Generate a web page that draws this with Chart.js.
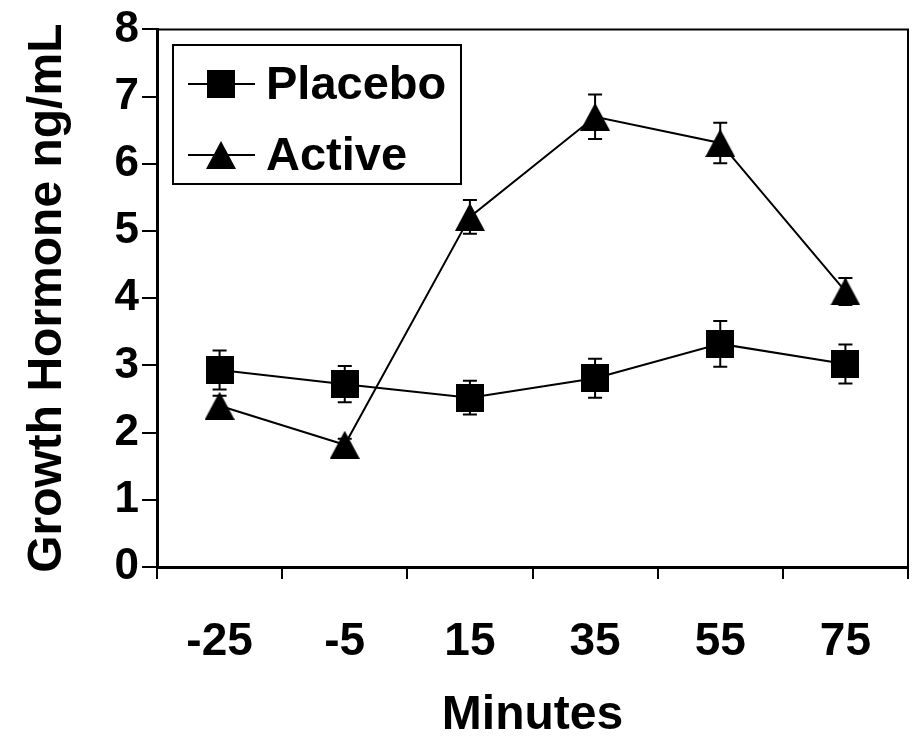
<!DOCTYPE html>
<html>
<head>
<meta charset="utf-8">
<script src="https://cdn.jsdelivr.net/npm/chart.js@4/dist/chart.umd.min.js"></script>
<style>
  body { margin: 0; background: #fff; }
</style>
</head>
<body>
<canvas id="ghChart" width="914" height="745"></canvas>
<script>
// values
const minutes = ['-25', '-5', '15', '35', '55', '75'];
const placebo = [2.93, 2.72, 2.52, 2.81, 3.32, 3.02];
const placeboErr = [0.29, 0.27, 0.25, 0.29, 0.34, 0.29];
const active = [2.40, 1.82, 5.21, 6.70, 6.31, 4.10];
const activeErr = [0.15, 0.09, 0.25, 0.33, 0.30, 0.20];

const FONT = "'Liberation Sans', Arial, sans-serif";

// marker images, centred on the point like the original
function makeMarker(shape, w, h) {
    const c = document.createElement('canvas');
    c.width = w;
    c.height = h;
    const g = c.getContext('2d');
    g.fillStyle = '#000';
    if (shape === 'square') {
        g.fillRect(0, 0, w, h);
    } else {
        g.beginPath();
        g.moveTo(w / 2, 0);
        g.lineTo(w, h);
        g.lineTo(0, h);
        g.closePath();
        g.fill();
    }
    return c;
}
const squareMark = makeMarker('square', 28, 28);
const triangleMark = makeMarker('triangle', 30, 28);

const errorBars = {
    id: 'errorBars',
    afterDatasetsDraw(chart) {
        const ctx = chart.ctx;
        const y = chart.scales.y;
        ctx.save();
        ctx.strokeStyle = '#000';
        ctx.lineWidth = 2;
        chart.data.datasets.forEach((ds, i) => {
            const meta = chart.getDatasetMeta(i);
            meta.data.forEach((pt, j) => {
                const v = ds.data[j], e = ds.errors[j];
                const top = y.getPixelForValue(v + e);
                const bot = y.getPixelForValue(v - e);
                ctx.beginPath();
                ctx.moveTo(pt.x, top);
                ctx.lineTo(pt.x, bot);
                ctx.moveTo(pt.x - 7, top);
                ctx.lineTo(pt.x + 7, top);
                ctx.moveTo(pt.x - 7, bot);
                ctx.lineTo(pt.x + 7, bot);
                ctx.stroke();
            });
        });
        ctx.restore();
    }
};

// top/right frame of the plot area and the boxed legend
const frameAndLegend = {
    id: 'frameAndLegend',
    afterDraw(chart) {
        const ctx = chart.ctx;
        const a = chart.chartArea;
        ctx.save();
        ctx.strokeStyle = '#000';
        ctx.lineWidth = 2;
        ctx.beginPath();
        ctx.moveTo(a.left, a.top);
        ctx.lineTo(a.right, a.top);
        ctx.lineTo(a.right, a.bottom);
        ctx.stroke();

        ctx.fillStyle = '#fff';
        ctx.fillRect(173, 45, 288, 139);
        ctx.strokeRect(173, 45, 288, 139);

        const rows = [
            { label: chart.data.datasets[0].label, mark: squareMark, y: 84 },
            { label: chart.data.datasets[1].label, mark: triangleMark, y: 155 }
        ];
        ctx.font = 'bold 47px ' + FONT;
        ctx.textBaseline = 'middle';
        ctx.fillStyle = '#000';
        rows.forEach(r => {
            ctx.beginPath();
            ctx.moveTo(188, r.y);
            ctx.lineTo(255, r.y);
            ctx.stroke();
            ctx.drawImage(r.mark, 221 - r.mark.width / 2, r.y - r.mark.height / 2);
            ctx.fillText(r.label, 266, r.y + 2);
        });
        ctx.restore();
    }
};

new Chart(document.getElementById('ghChart'), {
    type: 'line',
    plugins: [errorBars, frameAndLegend],
    data: {
        labels: minutes,
        datasets: [
            {
                label: 'Placebo',
                data: placebo,
                errors: placeboErr,
                borderColor: '#000',
                borderWidth: 2,
                pointStyle: squareMark,
                tension: 0
            },
            {
                label: 'Active',
                data: active,
                errors: activeErr,
                borderColor: '#000',
                borderWidth: 2,
                pointStyle: triangleMark,
                tension: 0
            }
        ]
    },
    options: {
        responsive: false,
        animation: false,
        layout: { padding: { top: 25, right: 5, left: 0, bottom: 0 } },
        plugins: {
            legend: { display: false },
            tooltip: { enabled: false }
        },
        scales: {
            x: {
                offset: true,
                afterFit: scale => { scale.height = 178; },
                border: { color: '#000', width: 3 },
                grid: {
                    offset: true,
                    drawOnChartArea: false,
                    drawTicks: true,
                    tickLength: 12,
                    color: '#000',
                    lineWidth: 2
                },
                ticks: {
                    color: '#000',
                    padding: 36,
                    font: { family: FONT, size: 46, weight: 'bold' }
                },
                title: {
                    display: true,
                    text: 'Minutes',
                    color: '#000',
                    padding: { top: 0, bottom: 0 },
                    font: { family: FONT, size: 48, weight: 'bold' }
                }
            },
            y: {
                min: 0,
                max: 8,
                afterFit: scale => { scale.width = 157; },
                border: { color: '#000', width: 3 },
                grid: {
                    drawOnChartArea: false,
                    drawTicks: true,
                    tickLength: 15,
                    color: '#000',
                    lineWidth: 2
                },
                ticks: {
                    stepSize: 1,
                    color: '#000',
                    padding: 3,
                    font: { family: FONT, size: 44, weight: 'bold' }
                },
                title: {
                    display: true,
                    text: 'Growth Hormone ng/mL',
                    color: '#000',
                    padding: { top: 19, bottom: 0 },
                    font: { family: FONT, size: 48, weight: 'bold' }
                }
            }
        }
    }
});
</script>
</body>
</html>
